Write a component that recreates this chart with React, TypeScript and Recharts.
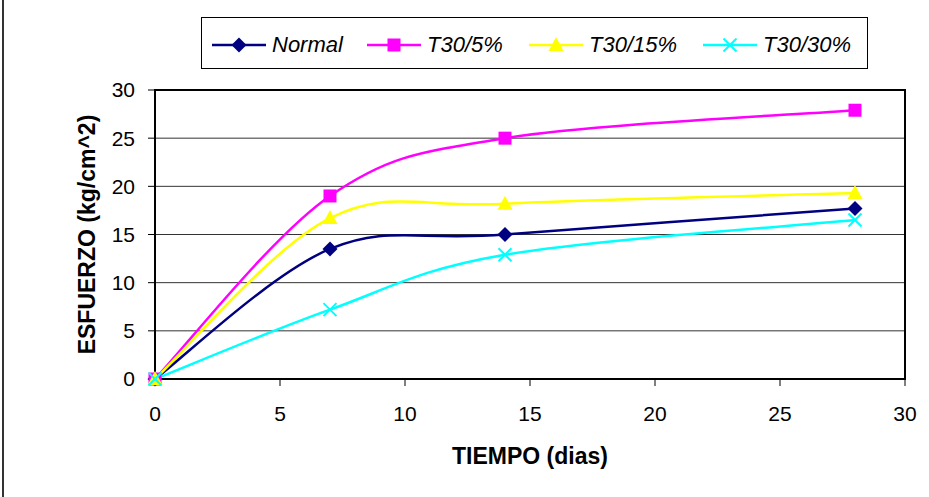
import React from 'react';
import { LineChart, Line, XAxis, YAxis, CartesianGrid, ReferenceArea, Legend } from 'recharts';

// ---- data ----
const days = [0, 7, 14, 28];
const normal = [0, 13.5, 15.0, 17.7];
const t30_5 = [0, 19.0, 25.0, 27.9];
const t30_15 = [0, 16.7, 18.2, 19.3];
const t30_30 = [0, 7.2, 12.9, 16.5];
const seriesNames = ['Normal', 'T30/5%', 'T30/15%', 'T30/30%'];
const xTicks = [0, 5, 10, 15, 20, 25, 30];
const yTicks = [0, 5, 10, 15, 20, 25, 30];
const xTitle = 'TIEMPO (dias)';
const yTitle = 'ESFUERZO (kg/cm^2)';

const data = days.map((d, i) => ({
  dias: d,
  normal: normal[i],
  t5: t30_5[i],
  t15: t30_15[i],
  t30: t30_30[i],
}));

const FONT = "'Liberation Sans', Arial, sans-serif";

// Excel-like smoothed line (uniform Catmull-Rom as cubic Bezier)
const excelSmooth: any = (context: any) => {
  let pts: number[][] = [];
  return {
    areaStart() {},
    areaEnd() {},
    lineStart() {
      pts = [];
    },
    point(x: number, y: number) {
      pts.push([+x, +y]);
    },
    lineEnd() {
      const n = pts.length;
      if (!n) return;
      context.moveTo(pts[0][0], pts[0][1]);
      for (let i = 0; i < n - 1; i++) {
        const p0 = pts[i - 1] || pts[i];
        const p1 = pts[i];
        const p2 = pts[i + 1];
        const p3 = pts[i + 2] || pts[i + 1];
        context.bezierCurveTo(
          p1[0] + (p2[0] - p0[0]) / 6,
          p1[1] + (p2[1] - p0[1]) / 6,
          p2[0] - (p3[0] - p1[0]) / 6,
          p2[1] - (p3[1] - p1[1]) / 6,
          p2[0],
          p2[1]
        );
      }
    },
  };
};

const markerShape = (kind: string, cx: number, cy: number, color: string, key?: any) => {
  if (kind === 'diamond') {
    const s = 7.5;
    return <polygon key={key} points={`${cx},${cy - s} ${cx + s},${cy} ${cx},${cy + s} ${cx - s},${cy}`} fill={color} />;
  }
  if (kind === 'square') {
    const s = 6.5;
    return <rect key={key} x={cx - s} y={cy - s} width={2 * s} height={2 * s} fill={color} />;
  }
  if (kind === 'triangle') {
    return <polygon key={key} points={`${cx},${cy - 8} ${cx + 7.5},${cy + 6} ${cx - 7.5},${cy + 6}`} fill={color} />;
  }
  const s = 6.5;
  return (
    <g key={key}>
      <line x1={cx - s} y1={cy - s} x2={cx + s} y2={cy + s} stroke={color} strokeWidth={2} />
      <line x1={cx - s} y1={cy + s} x2={cx + s} y2={cy - s} stroke={color} strokeWidth={2} />
    </g>
  );
};

const series = [
  { key: 'normal', name: seriesNames[0], color: '#000080', marker: 'diamond' },
  { key: 't5', name: seriesNames[1], color: '#FF00FF', marker: 'square' },
  { key: 't15', name: seriesNames[2], color: '#FFFF00', marker: 'triangle' },
  { key: 't30', name: seriesNames[3], color: '#00FFFF', marker: 'x' },
];

const legendLefts = [10, 165, 327, 501];

const renderLegend = () => (
  <div
    style={{
      position: 'relative',
      boxSizing: 'border-box',
      width: 667,
      height: 52,
      border: '1px solid #000',
      background: '#fff',
      fontFamily: FONT,
      fontStyle: 'italic',
      fontSize: 22,
      color: '#000',
    }}
  >
    {series.map((s, i) => (
      <div
        key={s.key}
        style={{ position: 'absolute', left: legendLefts[i], top: 16, height: 22, display: 'flex', alignItems: 'center' }}
      >
        <svg width={54} height={22} style={{ display: 'block' }}>
          <line x1={0} y1={11} x2={54} y2={11} stroke={s.color} strokeWidth={2.5} />
          {markerShape(s.marker, 27, 11, s.color)}
        </svg>
        <span style={{ marginLeft: 6, lineHeight: '22px', whiteSpace: 'nowrap' }}>{s.name}</span>
      </div>
    ))}
  </div>
);

const tickStyle = { fontSize: 21, fill: '#000', fontFamily: FONT };
const titleStyle = { fontSize: 23, fontWeight: 'bold', fill: '#000', fontFamily: FONT, textAnchor: 'middle' as const };

export default function App() {
  return (
    <div style={{ position: 'absolute', left: 0, top: 0, width: 929, height: 497, background: '#fff', overflow: 'hidden' }}>
      <div style={{ position: 'absolute', left: 2, top: 0, width: 2, height: 497, background: '#333' }} />
      <LineChart width={929} height={497} data={data} margin={{ top: 90, right: 24, bottom: 58, left: 95 }}>
        <CartesianGrid horizontal vertical={false} stroke="#333" strokeWidth={1} />
        <ReferenceArea x1={0} x2={30} y1={0} y2={30} fill="none" stroke="#000" strokeWidth={2} ifOverflow="visible" />
        <XAxis
          type="number"
          dataKey="dias"
          domain={[0, 30]}
          ticks={xTicks}
          interval={0}
          tickSize={7}
          tickMargin={20}
          tick={tickStyle}
          axisLine={{ stroke: '#000', strokeWidth: 2 }}
          tickLine={{ stroke: '#000', strokeWidth: 1 }}
          height={60}
          label={{ value: xTitle, position: 'bottom', offset: 9, style: titleStyle }}
        />
        <YAxis
          type="number"
          domain={[0, 30]}
          ticks={yTicks}
          interval={0}
          tickSize={7}
          tickMargin={13}
          tick={tickStyle}
          axisLine={{ stroke: '#000', strokeWidth: 2 }}
          tickLine={{ stroke: '#000', strokeWidth: 1 }}
          width={60}
          label={{ value: yTitle, angle: -90, position: 'insideLeft', offset: -8, style: titleStyle }}
        />
        <Legend
          layout="vertical"
          align="center"
          verticalAlign="middle"
          content={renderLegend}
          wrapperStyle={{ left: 201, top: 17, width: 667, height: 52 }}
        />
        {series.map((s) => (
          <Line
            key={s.key}
            dataKey={s.key}
            name={s.name}
            type={excelSmooth}
            stroke={s.color}
            strokeWidth={2.5}
            isAnimationActive={false}
            dot={(p: any) => markerShape(s.marker, p.cx, p.cy, s.color, `${s.key}-${p.index}`)}
            activeDot={false}
          />
        ))}
      </LineChart>
    </div>
  );
}
